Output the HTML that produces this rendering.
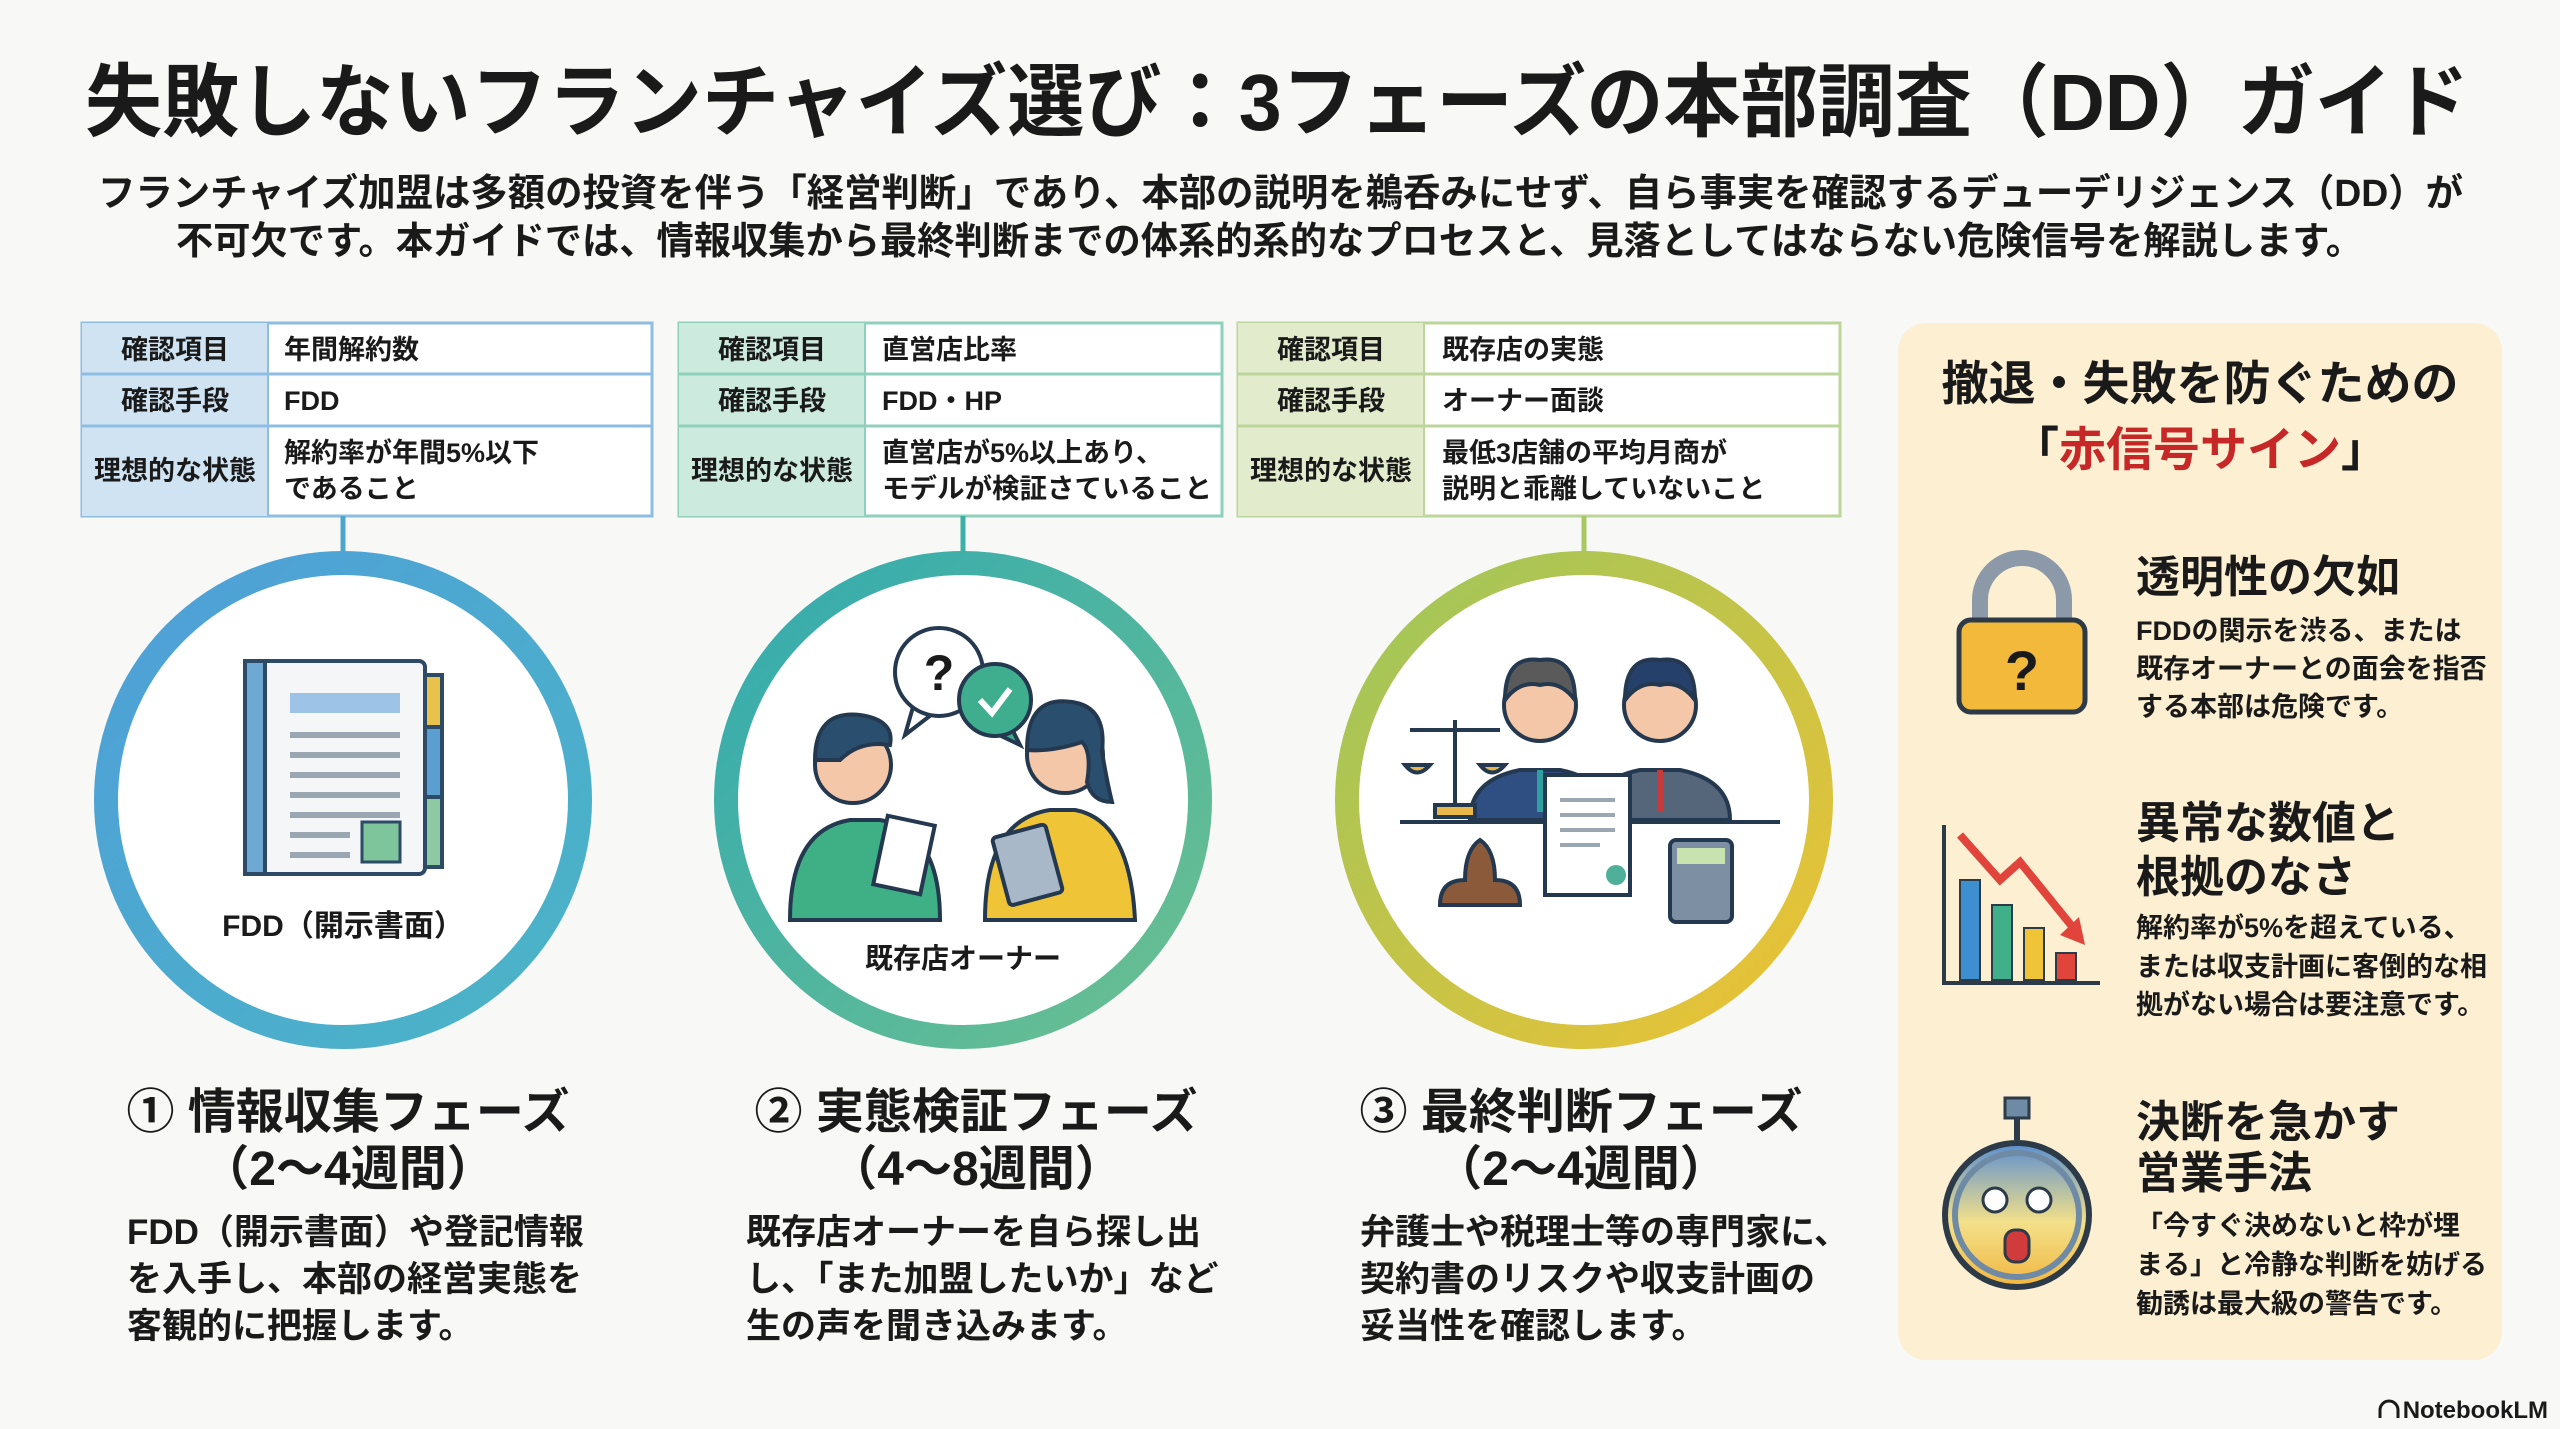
<!DOCTYPE html>
<html><head><meta charset="utf-8"><style>
html,body{margin:0;padding:0;background:#f8f8f6;}
svg{display:block}
text{font-family:"Liberation Sans","Noto Sans CJK JP",sans-serif;font-weight:bold;fill:#1a1a1a}
</style></head><body>
<svg width="2560" height="1429" viewBox="0 0 2560 1429" xmlns="http://www.w3.org/2000/svg">
<defs>
<linearGradient id="g1" x1="0" y1="0" x2="1" y2="1"><stop offset="0" stop-color="#4f9fd8"/><stop offset="1" stop-color="#4ab5c6"/></linearGradient>
<linearGradient id="g2" x1="0" y1="0" x2="1" y2="1"><stop offset="0" stop-color="#33aab0"/><stop offset="1" stop-color="#6cc08f"/></linearGradient>
<linearGradient id="g3" x1="0" y1="0" x2="1" y2="1"><stop offset="0" stop-color="#9cc65c"/><stop offset="1" stop-color="#efc233"/></linearGradient>
<linearGradient id="face" x1="0" y1="0" x2="0" y2="1"><stop offset="0" stop-color="#5a8fd0"/><stop offset="0.55" stop-color="#f3e08a"/><stop offset="1" stop-color="#f2b640"/></linearGradient>
</defs>
<rect width="2560" height="1429" fill="#f8f8f6"/>

<text x="85" y="130" font-size="80" textLength="2384" lengthAdjust="spacingAndGlyphs">失敗しないフランチャイズ選び：3フェーズの本部調査（DD）ガイド</text>
<text x="98" y="206" font-size="38" textLength="2365" lengthAdjust="spacingAndGlyphs">フランチャイズ加盟は多額の投資を伴う「経営判断」であり、本部の説明を鵜呑みにせず、自ら事実を確認するデューデリジェンス（DD）が</text>
<text x="176" y="254" font-size="38" textLength="2187" lengthAdjust="spacingAndGlyphs">不可欠です。本ガイドでは、情報収集から最終判断までの体系的系的なプロセスと、見落としてはならない危険信号を解説します。</text>

<g font-size="27">
<rect x="82" y="323" width="570" height="193" fill="#fff" stroke="#8dbde0" stroke-width="3"/>
<rect x="82" y="323" width="186" height="193" fill="#cfe3f3"/>
<line x1="82" y1="374" x2="652" y2="374" stroke="#8dbde0" stroke-width="3"/>
<line x1="82" y1="426" x2="652" y2="426" stroke="#8dbde0" stroke-width="3"/>
<line x1="268" y1="323" x2="268" y2="516" stroke="#8dbde0" stroke-width="2"/>
<text x="175" y="359" text-anchor="middle">確認項目</text>
<text x="175" y="410" text-anchor="middle">確認手段</text>
<text x="175" y="480" text-anchor="middle">理想的な状態</text>
<text x="284" y="359">年間解約数</text>
<text x="284" y="410">FDD</text>
<text x="284" y="462">解約率が年間5%以下</text>
<text x="284" y="498">であること</text>
<line x1="343" y1="516" x2="343" y2="560" stroke="#4ea6cf" stroke-width="5"/>

<rect x="679" y="323" width="543" height="193" fill="#fff" stroke="#8fd0bd" stroke-width="3"/>
<rect x="679" y="323" width="186" height="193" fill="#cdeadf"/>
<line x1="679" y1="374" x2="1222" y2="374" stroke="#8fd0bd" stroke-width="3"/>
<line x1="679" y1="426" x2="1222" y2="426" stroke="#8fd0bd" stroke-width="3"/>
<line x1="865" y1="323" x2="865" y2="516" stroke="#8fd0bd" stroke-width="2"/>
<text x="772" y="359" text-anchor="middle">確認項目</text>
<text x="772" y="410" text-anchor="middle">確認手段</text>
<text x="772" y="480" text-anchor="middle">理想的な状態</text>
<text x="882" y="359">直営店比率</text>
<text x="882" y="410">FDD・HP</text>
<text x="882" y="462">直営店が5%以上あり、</text>
<text x="882" y="498" textLength="330" lengthAdjust="spacingAndGlyphs">モデルが検証さていること</text>
<line x1="963" y1="516" x2="963" y2="560" stroke="#3cb0a6" stroke-width="5"/>

<rect x="1238" y="323" width="602" height="193" fill="#fff" stroke="#bcd59a" stroke-width="3"/>
<rect x="1238" y="323" width="186" height="193" fill="#e2eccd"/>
<line x1="1238" y1="374" x2="1840" y2="374" stroke="#bcd59a" stroke-width="3"/>
<line x1="1238" y1="426" x2="1840" y2="426" stroke="#bcd59a" stroke-width="3"/>
<line x1="1424" y1="323" x2="1424" y2="516" stroke="#bcd59a" stroke-width="2"/>
<text x="1331" y="359" text-anchor="middle">確認項目</text>
<text x="1331" y="410" text-anchor="middle">確認手段</text>
<text x="1331" y="480" text-anchor="middle">理想的な状態</text>
<text x="1442" y="359">既存店の実態</text>
<text x="1442" y="410">オーナー面談</text>
<text x="1442" y="462">最低3店舗の平均月商が</text>
<text x="1442" y="498">説明と乖離していないこと</text>
<line x1="1584" y1="516" x2="1584" y2="560" stroke="#a8c860" stroke-width="5"/>
</g>

<circle cx="343" cy="800" r="237" fill="#fff" stroke="url(#g1)" stroke-width="24"/>
<circle cx="963" cy="800" r="237" fill="#fff" stroke="url(#g2)" stroke-width="24"/>
<circle cx="1584" cy="800" r="237" fill="#fff" stroke="url(#g3)" stroke-width="24"/>

<g stroke="#2d4a66" stroke-width="4">
<rect x="420" y="675" width="22" height="52" fill="#e8c24a"/>
<rect x="420" y="727" width="22" height="70" fill="#5b9fd0"/>
<rect x="420" y="797" width="22" height="70" fill="#8fc9a2"/>
<rect x="245" y="661" width="180" height="213" rx="6" fill="#f4f6f8"/>
<rect x="245" y="661" width="20" height="213" fill="#6ea9d4"/>
</g>
<rect x="290" y="693" width="110" height="20" fill="#9dc3e6"/>
<g stroke="#9aa6b2" stroke-width="6">
<line x1="290" y1="735" x2="400" y2="735"/><line x1="290" y1="755" x2="400" y2="755"/><line x1="290" y1="775" x2="400" y2="775"/>
<line x1="290" y1="795" x2="400" y2="795"/><line x1="290" y1="815" x2="400" y2="815"/><line x1="290" y1="835" x2="350" y2="835"/><line x1="290" y1="855" x2="350" y2="855"/>
</g>
<rect x="362" y="822" width="38" height="40" fill="#7fc59b" stroke="#2d4a66" stroke-width="3"/>
<text x="343" y="936" text-anchor="middle" font-size="30">FDD（開示書面）</text>

<!-- people icon -->
<g stroke="#24394f" stroke-width="4">
<path d="M915 700 L905 735 L935 712z" fill="#fff"/>
<circle cx="939" cy="672" r="44" fill="#fff"/>
<path d="M1010 725 L1020 745 L995 733z" fill="#3fae8e"/>
<circle cx="995" cy="700" r="36" fill="#3fae8e"/>
<path d="M790 920 q0 -90 60 -100 h30 q60 10 60 100z" fill="#3faf86"/>
<circle cx="853" cy="765" r="38" fill="#f4c7a8"/>
<path d="M815 760 q0 -50 45 -45 q35 5 30 30 q-30 -5 -50 15 z" fill="#2a4e6e"/>
<rect x="880" y="820" width="48" height="70" fill="#fff" transform="rotate(12 904 855)"/>
<path d="M985 920 q0 -100 65 -110 h25 q55 10 60 110z" fill="#efc436"/>
<circle cx="1065" cy="755" r="38" fill="#f4c7a8"/>
<path d="M1027 750 q0 -55 45 -48 q35 5 30 50 q5 30 10 50 q-20 0 -25 -20 q5 -30 -5 -40 q-30 10 -55 8z" fill="#2a4e6e"/>
<rect x="1000" y="830" width="55" height="70" rx="4" fill="#a9b8c8" transform="rotate(-15 1027 865)"/>
</g>
<text x="939" y="690" font-size="50" fill="#4a8fd0" text-anchor="middle">?</text>
<path d="M980 700 l12 13 l18 -24" stroke="#fff" stroke-width="6" fill="none"/>
<text x="963" y="968" text-anchor="middle" font-size="28">既存店オーナー</text>

<g stroke="#24394f" stroke-width="4">
<path d="M1470 820 q0 -40 50 -50 h40 q50 10 50 50z" fill="#2f4f82"/>
<circle cx="1540" cy="705" r="36" fill="#f4c7a8"/>
<path d="M1505 700 q0 -45 35 -40 q35 -5 35 40 q-15 -20 -35 -15 q-20 -5 -35 15z" fill="#5a5a5a"/>
<path d="M1590 820 q0 -40 50 -50 h40 q50 10 50 50z" fill="#55657a"/>
<circle cx="1660" cy="705" r="36" fill="#f4c7a8"/>
<path d="M1625 700 q0 -45 35 -40 q35 -5 35 40 q-15 -20 -35 -15 q-20 -5 -35 15z" fill="#25406a"/>
<line x1="1400" y1="822" x2="1780" y2="822"/>
<line x1="1455" y1="720" x2="1455" y2="810"/>
<line x1="1410" y1="730" x2="1500" y2="730"/>
<path d="M1405 765 q12 15 25 0z M1480 765 q12 15 25 0z" fill="#e8b84a"/>
<rect x="1435" y="805" width="40" height="12" fill="#e8b84a"/>
<rect x="1545" y="775" width="85" height="120" fill="#fff"/>
<rect x="1670" y="840" width="62" height="82" rx="6" fill="#7d8fa3"/>
<path d="M1440 905 q0 -25 25 -25 q0 -30 15 -40 q15 10 15 40 q25 0 25 25z" fill="#8a5a3a"/>
</g>
<rect x="1677" y="848" width="48" height="16" fill="#c9e3b0"/>
<circle cx="1616" cy="875" r="10" fill="#4fb09a"/>
<g stroke="#9aa6b2" stroke-width="4"><line x1="1560" y1="800" x2="1615" y2="800"/><line x1="1560" y1="815" x2="1615" y2="815"/><line x1="1560" y1="830" x2="1615" y2="830"/><line x1="1560" y1="845" x2="1600" y2="845"/></g>
<line x1="1540" y1="812" x2="1540" y2="770" stroke="#2fa0a0" stroke-width="6"/>
<line x1="1660" y1="812" x2="1660" y2="770" stroke="#c83a3a" stroke-width="6"/>

<g font-size="48">
<text x="348" y="1128" text-anchor="middle">① 情報収集フェーズ</text>
<text x="348" y="1185" text-anchor="middle">（2〜4週間）</text>
<text x="976" y="1128" text-anchor="middle">② 実態検証フェーズ</text>
<text x="976" y="1185" text-anchor="middle">（4〜8週間）</text>
<text x="1581" y="1128" text-anchor="middle">③ 最終判断フェーズ</text>
<text x="1581" y="1185" text-anchor="middle">（2〜4週間）</text>
</g>
<g font-size="35">
<text x="127" y="1244">FDD（開示書面）や登記情報</text>
<text x="127" y="1291">を入手し、本部の経営実態を</text>
<text x="127" y="1338">客観的に把握します。</text>
<text x="746" y="1244">既存店オーナーを自ら探し出</text>
<text x="746" y="1291">し、「また加盟したいか」など</text>
<text x="746" y="1338">生の声を聞き込みます。</text>
<text x="1360" y="1244">弁護士や税理士等の専門家に、</text>
<text x="1360" y="1291">契約書のリスクや収支計画の</text>
<text x="1360" y="1338">妥当性を確認します。</text>
</g>

<rect x="1898" y="323" width="604" height="1037" rx="28" fill="#fcefd2"/>
<text x="2200" y="400" text-anchor="middle" font-size="47">撤退・失敗を防ぐための</text>
<text x="2200" y="466" text-anchor="middle" font-size="47">「<tspan fill="#c62828">赤信号サイン</tspan>」</text>

<path d="M1980 640 v-40 a42 42 0 0 1 84 0 v40" fill="none" stroke="#8b99a8" stroke-width="16"/>
<rect x="1959" y="620" width="126" height="92" rx="12" fill="#f2b93a" stroke="#2d3a48" stroke-width="5"/>
<text x="2022" y="690" text-anchor="middle" font-size="56">?</text>
<text x="2136" y="592" font-size="44">透明性の欠如</text>
<g font-size="27">
<text x="2136" y="640">FDDの関示を渋る、または</text>
<text x="2136" y="678">既存オーナーとの面会を指否</text>
<text x="2136" y="716">する本部は危険です。</text>
</g>

<line x1="1944" y1="825" x2="1944" y2="983" stroke="#2d3a48" stroke-width="4"/>
<line x1="1942" y1="983" x2="2100" y2="983" stroke="#2d3a48" stroke-width="4"/>
<rect x="1960" y="880" width="20" height="100" fill="#3d8fd0" stroke="#2d3a48" stroke-width="2"/>
<rect x="1992" y="905" width="20" height="75" fill="#3fb08a" stroke="#2d3a48" stroke-width="2"/>
<rect x="2024" y="928" width="20" height="52" fill="#efc436" stroke="#2d3a48" stroke-width="2"/>
<rect x="2056" y="953" width="20" height="27" fill="#e0443a" stroke="#2d3a48" stroke-width="2"/>
<polyline points="1960,835 2000,880 2020,862 2075,930" fill="none" stroke="#e0443a" stroke-width="8"/>
<path d="M2060 935 l25 10 l-6 -28z" fill="#e0443a"/>
<text x="2136" y="838" font-size="44">異常な数値と</text>
<text x="2136" y="892" font-size="44">根拠のなさ</text>
<g font-size="27">
<text x="2136" y="937">解約率が5%を超えている、</text>
<text x="2136" y="976">または収支計画に客倒的な相</text>
<text x="2136" y="1014">拠がない場合は要注意です。</text>
</g>

<rect x="2005" y="1098" width="24" height="20" fill="#6f8aa4" stroke="#2d3a48" stroke-width="3"/>
<line x1="2017" y1="1118" x2="2017" y2="1140" stroke="#2d3a48" stroke-width="6"/>
<circle cx="2017" cy="1215" r="72" fill="url(#face)" stroke="#2d3a48" stroke-width="6"/>
<circle cx="2017" cy="1215" r="62" fill="none" stroke="#6f8aa4" stroke-width="6"/>
<circle cx="1995" cy="1200" r="12" fill="#fff" stroke="#2d3a48" stroke-width="3"/>
<circle cx="2039" cy="1200" r="12" fill="#fff" stroke="#2d3a48" stroke-width="3"/>
<rect x="2005" y="1230" width="24" height="32" rx="10" fill="#d23b3b" stroke="#2d3a48" stroke-width="3"/>
<text x="2136" y="1137" font-size="44">決断を急かす</text>
<text x="2136" y="1188" font-size="44">営業手法</text>
<g font-size="27">
<text x="2136" y="1235">「今すぐ決めないと枠が埋</text>
<text x="2136" y="1274">まる」と冷静な判断を妨げる</text>
<text x="2136" y="1313">勧誘は最大級の警告です。</text>
</g>

<text x="2548" y="1418" text-anchor="end" font-size="24">NotebookLM</text>
<path d="M2380 1418 v-8 a9 9 0 0 1 18 0 v8" fill="none" stroke="#1a1a1a" stroke-width="3"/>
</svg>
</body></html>
